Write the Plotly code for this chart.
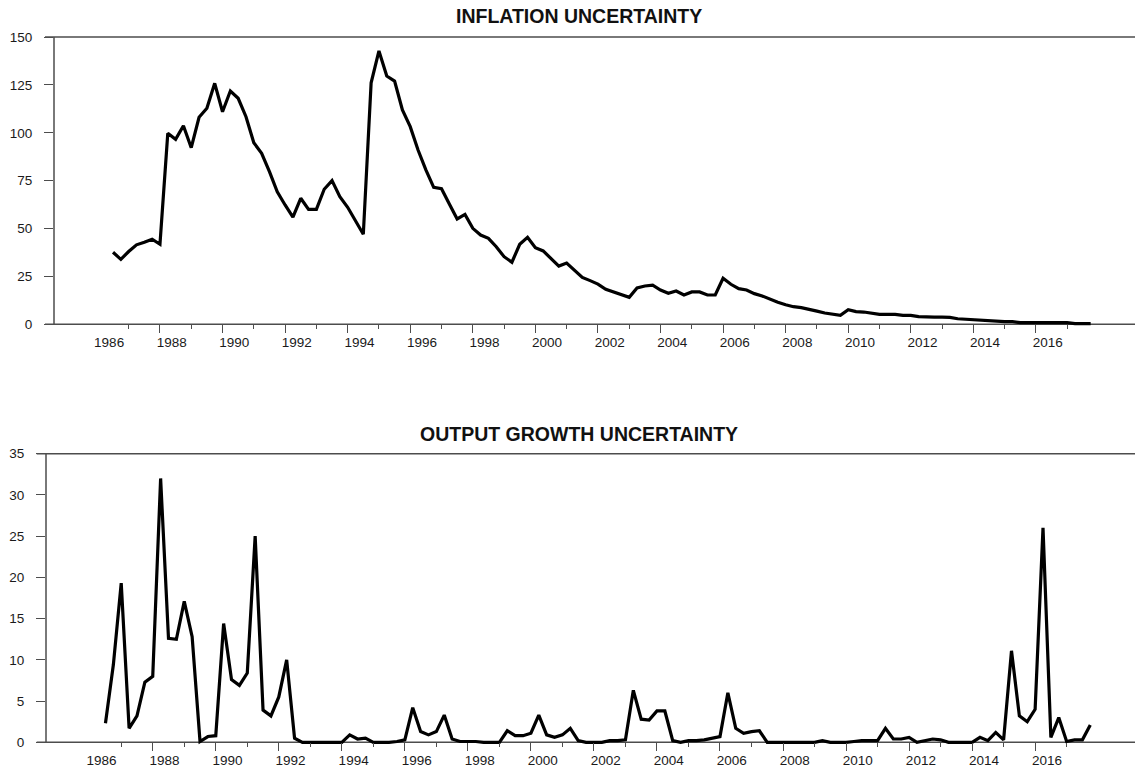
import plotly.graph_objects as go

# ---------------- data (quarterly, 1986Q3 - 2017Q4) ----------------
START_YEAR, START_Q = 1986, 3

inflation = [
    37.6, 33.9,
    38.0, 41.5, 42.8, 44.4,
    41.8, 99.7, 96.6, 103.7,
    92.2, 108.1, 112.8, 125.8,
    111.0, 121.8, 118.0, 108.4,
    94.8, 89.3, 79.7, 69.2,
    62.3, 55.9, 65.8, 60.0,
    60.0, 70.5, 75.0, 66.6,
    61.1, 54.1, 47.0, 126.1,
    142.7, 129.6, 127.0, 111.9,
    103.2, 91.0, 80.6, 71.5,
    70.8, 62.8, 55.0, 57.4,
    50.1, 46.6, 44.9, 40.5,
    35.3, 32.4, 41.8, 45.4,
    40.0, 38.3, 34.1, 30.4,
    32.0, 28.3, 24.5, 22.8,
    21.0, 18.3, 16.9, 15.1,
    14.1, 19.0, 20.0, 20.4,
    17.9, 16.2, 17.4, 15.3,
    16.9, 16.9, 15.3, 15.3,
    24.0, 20.9, 18.6, 17.9,
    16.0, 14.8, 13.0, 11.5,
    10.2, 9.2, 8.7, 7.6,
    6.9, 5.9, 5.4, 4.7,
    7.6, 6.6, 6.4, 5.7,
    5.2, 5.2, 5.2, 4.7,
    4.7, 4.0, 3.7, 3.7,
    3.7, 3.6, 2.9, 2.6,
    2.4, 1.9, 1.9, 1.4,
    1.4, 1.4, 0.9, 0.9,
    0.9, 0.9, 0.9, 0.9,
    0.9, 0.4, 0.4, 0.4,
]

output_growth = [
    2.3, 9.4,
    19.3, 1.7, 3.2, 7.3,
    8.0, 32.0, 12.6, 12.5,
    17.1, 12.8, 0.1, 0.7,
    0.8, 14.4, 7.6, 6.9,
    8.4, 25.0, 3.9, 3.2,
    5.5, 10.0, 0.5, 0.0,
    0.0, 0.0, 0.0, 0.0,
    0.0, 0.9, 0.4, 0.5,
    0.0, 0.0, 0.0, 0.1,
    0.3, 4.2, 1.3, 0.9,
    1.3, 3.3, 0.4, 0.1,
    0.1, 0.1, 0.0, 0.0,
    0.0, 1.4, 0.8, 0.8,
    1.1, 3.3, 0.9, 0.6,
    0.9, 1.7, 0.2, 0.0,
    0.0, 0.0, 0.2, 0.2,
    0.3, 6.3, 2.8, 2.7,
    3.8, 3.8, 0.2, 0.0,
    0.2, 0.2, 0.3, 0.5,
    0.7, 6.0, 1.7, 1.1,
    1.3, 1.4, 0.0, 0.0,
    0.0, 0.0, 0.0, 0.0,
    0.0, 0.2, 0.0, 0.0,
    0.0, 0.1, 0.2, 0.2,
    0.2, 1.7, 0.4, 0.4,
    0.6, 0.0, 0.2, 0.4,
    0.3, 0.0, 0.0, 0.0,
    0.0, 0.6, 0.2, 1.2,
    0.3, 11.1, 3.2, 2.5,
    4.0, 26.0, 0.6, 3.0,
    0.1, 0.3, 0.3, 2.1,
]

label_years = list(range(1986, 2017, 2))
major_tick_years = list(range(1988, 2017, 2))
minor_tick_years = list(range(1987, 2018, 2))

inflation_ticks = [0, 25, 50, 75, 100, 125, 150]
output_ticks = [0, 5, 10, 15, 20, 25, 30, 35]

titles = ["INFLATION UNCERTAINTY", "OUTPUT GROWTH UNCERTAINTY"]

# ---------------- layout helpers ----------------
OFF = 8                      # page body margin
W, H = 1143 - OFF, 769 - OFF  # figure size so it fills the window
FONT = "Liberation Sans, Arial, Helvetica, sans-serif"
AXC = "#4d4d4d"
XRANGE = [1984.613, 2019.423]


def px(x):
    return (x - OFF) / W


def py(y):
    return 1 - (y - OFF) / H


def quarter_positions(n):
    return [START_YEAR + (START_Q - 1 + i) / 4 for i in range(n)]


# pixel geometry (window pixels) of the two panels
panels = [
    dict(left=54, top=37, zero=324.3, ymax=150, ticks=inflation_ticks,
         title_y=16.5, tick_from=45),
    dict(left=46, top=453.7, zero=742.3, ymax=35, ticks=output_ticks,
         title_y=434, tick_from=36.7),
]
EXT = 3.7  # extra pixels below zero so the line is not clipped

fig = go.Figure()
series = [inflation, output_growth]

shapes = []
annotations = []
layout = dict(
    width=W, height=H,
    margin=dict(l=0, r=0, t=0, b=0, autoexpand=False),
    paper_bgcolor="white", plot_bgcolor="white",
    showlegend=False,
    font=dict(family=FONT, size=13.5, color="#1a1a1a"),
)

for k, (p, vals) in enumerate(zip(panels, series)):
    xa = "x" if k == 0 else f"x{2*k+1}"
    lab = f"x{2*k+2}"
    ya = "y" if k == 0 else f"y{k+1}"
    xname = "xaxis" if k == 0 else f"xaxis{2*k+1}"
    labname = f"xaxis{2*k+2}"
    yname = "yaxis" if k == 0 else f"yaxis{k+1}"

    fig.add_trace(go.Scatter(
        x=quarter_positions(len(vals)), y=vals, mode="lines",
        line=dict(color="black", width=3.2), xaxis=xa, yaxis=ya,
        hoverinfo="skip"))
    # empty trace so the label axis is drawn
    fig.add_trace(go.Scatter(x=[], y=[], xaxis=lab, yaxis=ya,
                             hoverinfo="skip"))

    pxunit = (p["zero"] - p["top"]) / p["ymax"]
    ymin = -EXT / pxunit
    dom_y = [py(p["zero"] + EXT), py(p["top"])]
    axis_pos = py(p["zero"])

    layout[yname] = dict(
        domain=dom_y, range=[ymin, p["ymax"]], anchor=xa,
        tickmode="array", tickvals=p["ticks"],
        ticks="outside", ticklen=9, tickwidth=1.3, tickcolor=AXC,
        showline=False, showgrid=False, zeroline=False,
        ticklabelstandoff=9, automargin=False,
        tickfont=dict(family=FONT, size=13.5, color="#1a1a1a"),
        fixedrange=True,
    )
    layout[xname] = dict(
        domain=[px(p["left"]), 1], range=XRANGE,
        anchor="free", position=axis_pos,
        tickmode="array", tickvals=major_tick_years,
        ticks="outside", ticklen=8, tickwidth=1.3, tickcolor=AXC,
        showticklabels=False, automargin=False,
        minor=dict(tickmode="array", tickvals=minor_tick_years,
                   ticks="outside", ticklen=4, tickwidth=1.3, tickcolor=AXC),
        showline=False, showgrid=False, zeroline=False, fixedrange=True,
    )
    layout[labname] = dict(
        overlaying=xa, range=XRANGE, anchor="free", position=axis_pos,
        tickmode="array", tickvals=[y + 0.375 for y in label_years],
        ticktext=[str(y) for y in label_years],
        ticks="", showline=False, showgrid=False, zeroline=False,
        ticklabelstandoff=8, automargin=False,
        tickfont=dict(family=FONT, size=13.5, color="#1a1a1a"),
        fixedrange=True,
    )

    # frame lines: left axis, top border, bottom axis
    line = dict(color=AXC, width=1.5)
    shapes.append(dict(type="line", xref="paper", yref="paper",
                       x0=px(p["left"]), x1=px(p["left"]),
                       y0=py(p["zero"]), y1=py(p["top"]), line=line,
                       layer="below"))
    shapes.append(dict(type="line", xref="paper", yref="paper",
                       x0=px(p["tick_from"]), x1=1,
                       y0=py(p["top"]), y1=py(p["top"]), line=line,
                       layer="below"))
    shapes.append(dict(type="line", xref="paper", yref="paper",
                       x0=px(p["tick_from"]), x1=1,
                       y0=py(p["zero"]), y1=py(p["zero"]), line=line,
                       layer="below"))

    annotations.append(dict(
        text=f"<b>{titles[k]}</b>", xref="paper", yref="paper",
        x=px(579), y=py(p["title_y"]), xanchor="center", yanchor="middle",
        showarrow=False,
        font=dict(family=FONT, size=19.5, color="#111111")))

layout["shapes"] = shapes
layout["annotations"] = annotations
fig.update_layout(**layout)

fig.write_html("out.html")
